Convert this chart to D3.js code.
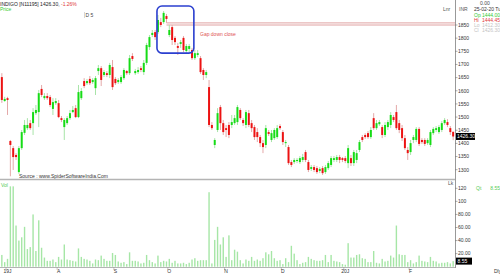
<!DOCTYPE html>
<html>
<head>
<meta charset="utf-8">
<title>INDIGO</title>
<script src="https://cdn.jsdelivr.net/npm/d3@7"></script>
<style>
  body { margin: 0; background: #fff; }
  svg { display: block; font-family: "Liberation Sans", Arial, sans-serif; }
</style>
</head>
<body>
<div id="container"></div>
<script>

// ******* Data (daily candles, Jul 2019 - 25 Feb 2020) *******
var open = [
  1652,1561,1572,1409,1382,1356,1291,1382,1440,1458,
  1477,1477,1515,1519,1607,1572,1580,1576,1531,1553,
  1553,1496,1462,1477,1496,1519,1534,1500,1572,1637,
  1629,1645,1633,1610,1675,1686,1660,1667,1660,1690,
  1645,1633,1633,1648,1675,1667,1732,1667,1671,1686,
  1671,1706,1766,1812,1823,1823,1861,1861,1884,1812,
  1842,1801,1770,1778,1801,1751,1759,1755,1724,1736,
  1724,1679,1660,1614,1470,1394,1451,1538,1477,1458,
  1470,1470,1477,1481,1527,1489,1470,1515,1477,1462,
  1443,1424,1401,1394,1443,1413,1420,1424,1466,1443,
  1401,1386,1329,1329,1333,1329,1337,1367,1329,1303,
  1310,1306,1295,1306,1291,1306,1318,1337,1337,1348,
  1344,1344,1325,1344,1325,1337,1375,1424,1432,1439,
  1424,1496,1458,1473,1462,1432,1462,1470,1500,1519,
  1477,1458,1420,1375,1367,1413,1413,1455,1413,1413,
  1401,1394,1439,1451,1443,1451,1477,1481,1458,1444.00
];
var high = [
  1667,1577,1577,1413,1390,1363,1390,1451,1489,1496,
  1489,1534,1546,1603,1622,1591,1591,1584,1572,1572,
  1565,1504,1496,1504,1527,1542,1546,1622,1610,1648,
  1645,1656,1648,1656,1698,1694,1679,1675,1706,1717,
  1652,1648,1660,1686,1679,1736,1743,1683,1690,1694,
  1717,1782,1812,1831,1831,1888,1877,1903,1892,1850,
  1850,1808,1782,1793,1808,1778,1778,1763,1755,1755,
  1732,1686,1679,1641,1481,1420,1534,1546,1489,1470,
  1481,1508,1508,1546,1534,1496,1527,1527,1489,1470,
  1458,1432,1413,1470,1451,1451,1458,1470,1473,1451,
  1413,1394,1337,1344,1344,1352,1360,1375,1337,1318,
  1318,1314,1310,1314,1318,1333,1352,1352,1356,1356,
  1348,1352,1394,1356,1375,1375,1413,1432,1439,1447,
  1462,1515,1489,1489,1470,1481,1489,1519,1508,1546,
  1489,1470,1432,1386,1413,1432,1462,1462,1420,1420,
  1420,1451,1462,1466,1470,1485,1496,1492,1466,1444.45
];
var low = [
  1554,1558,1508,1275,1299,1337,1284,1375,1432,1451,
  1451,1432,1508,1462,1576,1565,1565,1538,1508,1546,
  1496,1481,1413,1470,1489,1515,1496,1496,1565,1610,
  1622,1622,1626,1584,1660,1618,1652,1652,1648,1603,
  1622,1626,1626,1641,1660,1660,1713,1660,1664,1671,
  1660,1698,1755,1804,1793,1816,1842,1854,1858,1804,
  1774,1774,1736,1763,1747,1744,1747,1717,1717,1728,
  1664,1641,1648,1462,1451,1382,1443,1451,1432,1424,
  1420,1458,1470,1470,1489,1466,1458,1462,1443,1413,
  1405,1386,1363,1382,1428,1405,1413,1417,1451,1394,
  1386,1318,1310,1322,1325,1322,1329,1329,1291,1295,
  1291,1284,1287,1280,1284,1299,1310,1329,1329,1325,
  1329,1325,1306,1314,1314,1325,1367,1405,1417,1417,
  1417,1451,1451,1466,1420,1424,1451,1458,1481,1451,
  1439,1409,1375,1337,1356,1401,1405,1390,1398,1390,
  1394,1386,1432,1443,1436,1443,1470,1462,1432,1412.30
];
var close = [
  1565,1569,1565,1394,1348,1348,1382,1443,1470,1470,
  1458,1519,1527,1591,1584,1580,1572,1546,1557,1561,
  1500,1489,1489,1496,1515,1527,1500,1595,1599,1618,
  1637,1629,1641,1648,1686,1641,1671,1660,1698,1614,
  1629,1641,1652,1679,1667,1724,1721,1675,1679,1679,
  1706,1774,1804,1820,1804,1869,1850,1896,1873,1831,
  1793,1785,1763,1785,1755,1770,1770,1724,1743,1743,
  1671,1660,1671,1470,1458,1413,1515,1477,1443,1451,
  1432,1481,1496,1538,1496,1477,1519,1470,1458,1424,
  1424,1401,1386,1458,1436,1439,1451,1458,1458,1405,
  1405,1325,1318,1337,1337,1344,1348,1337,1299,1310,
  1299,1291,1303,1287,1310,1325,1344,1344,1348,1337,
  1337,1333,1382,1325,1367,1363,1405,1413,1424,1424,
  1451,1458,1477,1481,1432,1470,1481,1508,1489,1458,
  1451,1420,1382,1363,1401,1424,1455,1398,1405,1398,
  1413,1443,1455,1458,1462,1477,1489,1470,1443,1426.30
];
// volume in lakhs
var volume = [
  18,7,12,123,123,63,40,45,61,27,
  30,80,24,71,29,14,9,9,11,7,
  15,11,34,11,10,9,8,28,15,12,
  11,9,5,11,10,17,12,9,9,21,
  18,8,6,7,4,22,9,9,8,5,
  6,18,10,7,5,17,7,9,8,12,
  6,9,5,5,6,4,6,11,13,9,
  10,10,10,114,5,41,61,34,45,15,
  48,10,26,23,10,5,11,9,15,9,
  11,9,13,22,19,24,13,9,10,4,
  13,7,32,20,10,4,6,7,15,12,
  10,9,9,10,18,7,18,9,8,7,
  4,3,36,14,14,18,19,13,12,7,
  7,24,6,5,12,8,9,17,14,63,
  19,18,18,7,10,5,7,17,9,8,
  7,15,9,8,5,6,6,7,5,8.55
];
var monthLabels = ["19J", "A", "S", "O", "N", "D", "20J", "F"];
var monthIndex = [2, 20, 40, 59, 79, 99, 121, 144];
var priceTicks = [1300,1350,1400,1450,1500,1550,1600,1650,1700,1750,1800,1850];
var volTicks = [20, 40, 60, 80, 100, 120];
var volTickLabels = ["20.00", "40.00", "60.00", "80.00", "100", "120"];
var gapLevels = [1858, 1850]; // low before the gap, high after it
var gapStart = 58;
var boxIndex = [55, 68];      // candles framed by the blue box
var boxPrice = [1922, 1743];  // top and bottom of the blue box

// ******* Constants *******
const width = 500, height = 274;
const axisX = 455;
const fontSize = 5;

var svg = d3.select("#container").append("svg")
  .attr("width", width)
  .attr("height", height);

var x = d3.scaleBand()
  .domain(d3.range(close.length))
  .range([0, axisX])
  .padding(0.3);

var y = d3.scaleLinear().domain([1300, 1850]).range([169.7, 25]);
var yv = d3.scaleLinear().domain([0, 120]).range([266.7, 188.3]);

function cx(i) { return x(i) + x.bandwidth() / 2; }

var candles = d3.range(close.length).map(function(i) {
  return {i: i, o: open[i], h: high[i], l: low[i], c: close[i], v: volume[i]};
});

// ******* Frame *******
svg.append("line")
  .attr("x1", 0).attr("x2", axisX)
  .attr("y1", 179.5).attr("y2", 179.5)
  .attr("stroke", "#b4b4b4").attr("stroke-width", 1.5);
svg.append("line")
  .attr("x1", 0).attr("x2", axisX)
  .attr("y1", 267.5).attr("y2", 267.5)
  .attr("stroke", "#b4b4b4").attr("stroke-width", 1);
svg.append("line")
  .attr("x1", axisX + 0.5).attr("x2", axisX + 0.5)
  .attr("y1", 0).attr("y2", 268)
  .attr("stroke", "#999").attr("stroke-width", 1);

// ******* Gap lines *******
svg.selectAll(".gap")
  .data(gapLevels)
  .enter().append("line")
  .attr("x1", cx(gapStart)).attr("x2", axisX)
  .attr("y1", function(d) { return y(d); })
  .attr("y2", function(d) { return y(d); })
  .attr("stroke", "#d88a8a").attr("stroke-width", 0.8);

// ******* Candles *******
svg.selectAll(".wick")
  .data(candles)
  .enter().append("line")
  .attr("x1", function(d) { return cx(d.i); })
  .attr("x2", function(d) { return cx(d.i); })
  .attr("y1", function(d) { return y(d.h); })
  .attr("y2", function(d) { return y(d.l); })
  .attr("stroke", function(d) { return d.c >= d.o ? "#a8e4a8" : "#e4a8a8"; })
  .attr("stroke-width", 1);

svg.selectAll(".body")
  .data(candles)
  .enter().append("rect")
  .attr("x", function(d) { return x(d.i); })
  .attr("width", x.bandwidth())
  .attr("y", function(d) { return y(Math.max(d.o, d.c)); })
  .attr("height", function(d) { return Math.max(1, Math.abs(y(d.o) - y(d.c))); })
  .attr("fill", function(d) { return d.c >= d.o ? "#16dc16" : "#ec1212"; });

// ******* Blue box *******
var boxX0 = x(boxIndex[0]), boxX1 = x(boxIndex[1]);
svg.append("rect")
  .attr("x", boxX0).attr("y", y(boxPrice[0]))
  .attr("width", boxX1 - boxX0).attr("height", y(boxPrice[1]) - y(boxPrice[0]))
  .attr("rx", 5)
  .attr("fill", "none").attr("stroke", "#2b3fcf").attr("stroke-width", 1.6);

svg.append("text")
  .attr("x", 200).attr("y", 35.8)
  .attr("font-size", fontSize).attr("fill", "#e05252")
  .text("Gap down close");

// ******* Volume *******
svg.selectAll(".vol")
  .data(candles)
  .enter().append("rect")
  .attr("x", function(d) { return cx(d.i) - 0.7; })
  .attr("width", 1.4)
  .attr("y", function(d) { return yv(d.v); })
  .attr("height", function(d) { return yv(0) - yv(d.v); })
  .attr("fill", "#a6e6a6");

// ******* Price axis *******
var pAxis = svg.append("g");
pAxis.selectAll("line")
  .data(priceTicks).enter().append("line")
  .attr("x1", axisX).attr("x2", axisX + 2.5)
  .attr("y1", function(d) { return y(d); })
  .attr("y2", function(d) { return y(d); })
  .attr("stroke", "#777").attr("stroke-width", 0.6);
pAxis.selectAll("text")
  .data(priceTicks).enter().append("text")
  .attr("x", axisX + 3)
  .attr("y", function(d) { return y(d) + 1.8; })
  .attr("font-size", fontSize).attr("fill", "#333")
  .text(function(d) { return d; });

// last price box
var lastC = close[close.length - 1];
svg.append("rect")
  .attr("x", axisX + 1).attr("y", y(lastC) - 3.5)
  .attr("width", 19).attr("height", 7)
  .attr("fill", "#000");
svg.append("text")
  .attr("x", axisX + 2).attr("y", y(lastC) + 1.8)
  .attr("font-size", fontSize).attr("fill", "#fff")
  .text(d3.format(".2f")(lastC));

// ******* Volume axis *******
var vAxis = svg.append("g");
vAxis.selectAll("line")
  .data(volTicks).enter().append("line")
  .attr("x1", axisX).attr("x2", axisX + 2.5)
  .attr("y1", function(d) { return yv(d); })
  .attr("y2", function(d) { return yv(d); })
  .attr("stroke", "#777").attr("stroke-width", 0.6);
vAxis.selectAll("text")
  .data(volTicks).enter().append("text")
  .attr("x", axisX + 3)
  .attr("y", function(d) { return yv(d) + 1.8; })
  .attr("font-size", fontSize).attr("fill", "#333")
  .text(function(d, i) { return volTickLabels[i]; });

var lastV = volume[volume.length - 1];
svg.append("rect")
  .attr("x", axisX + 1).attr("y", yv(lastV) - 3.5)
  .attr("width", 16).attr("height", 7)
  .attr("fill", "#000");
svg.append("text")
  .attr("x", axisX + 2.5).attr("y", yv(lastV) + 1.8)
  .attr("font-size", fontSize).attr("fill", "#fff")
  .text(d3.format(".2f")(lastV));

// ******* Month axis *******
svg.selectAll(".mtick")
  .data(monthIndex).enter().append("line")
  .attr("x1", function(d) { return x(d) - 0.5; })
  .attr("x2", function(d) { return x(d) - 0.5; })
  .attr("y1", 267.5).attr("y2", 270)
  .attr("stroke", "#888").attr("stroke-width", 0.5);
svg.selectAll(".mlabel")
  .data(monthIndex).enter().append("text")
  .attr("x", function(d) { return cx(d); })
  .attr("y", 272.8)
  .attr("text-anchor", "middle")
  .attr("font-size", fontSize).attr("fill", "#333")
  .text(function(d, i) { return monthLabels[i]; });
svg.append("text")
  .attr("x", 494).attr("y", 272.8)
  .attr("font-size", fontSize).attr("fill", "#333")
  .text("Dly");

// ******* Header texts *******
var title = svg.append("text")
  .attr("x", 0).attr("y", 5.5)
  .attr("font-size", fontSize).attr("fill", "#222");
title.append("tspan").text("INDIGO [N11195] 1426.30, ");
title.append("tspan").attr("fill", "#e03a3a").text("-1.26%");

svg.append("text")
  .attr("x", 0).attr("y", 11.3)
  .attr("font-size", fontSize).attr("fill", "#33cc33")
  .text("Price");

svg.append("line")
  .attr("x1", 84.5).attr("x2", 84.5).attr("y1", 12).attr("y2", 18)
  .attr("stroke", "#aaa").attr("stroke-width", 0.5);
svg.append("text")
  .attr("x", 85.5).attr("y", 16.8)
  .attr("font-size", fontSize).attr("fill", "#444")
  .text("D 5");

svg.append("text")
  .attr("x", 443).attr("y", 10.8)
  .attr("font-size", fontSize).attr("fill", "#555")
  .text("Lnr");
svg.append("text")
  .attr("x", 459).attr("y", 10.8)
  .attr("font-size", fontSize).attr("fill", "#555")
  .text("INR");

svg.append("text")
  .attr("x", 480).attr("y", 5)
  .attr("font-size", fontSize).attr("fill", "#444")
  .text("0.00");
svg.append("text")
  .attr("x", 474).attr("y", 10.8)
  .attr("font-size", fontSize).attr("fill", "#333")
  .text("25-02-20 Tu");

var infoRows = [
  ["Op", "1444.00", "#33cc33"],
  ["Hi", "1444.45", "#e03a3a"],
  ["Lo", "1412.30", "#c4c4c4"],
  ["Cl", "1426.30", "#c4c4c4"]
];
infoRows.forEach(function(r, k) {
  svg.append("text")
    .attr("x", 474).attr("y", 16.8 + k * 5.2)
    .attr("font-size", fontSize).attr("fill", r[2])
    .text(r[0]);
  svg.append("text")
    .attr("x", 500).attr("y", 16.8 + k * 5.2)
    .attr("text-anchor", "end")
    .attr("font-size", fontSize).attr("fill", r[2])
    .text(r[1]);
});

svg.append("text")
  .attr("x", 19).attr("y", 178.3)
  .attr("font-size", fontSize).attr("fill", "#333")
  .text("Source : www.SpiderSoftwareIndia.Com");

// ******* Volume panel texts *******
svg.append("text")
  .attr("x", 1).attr("y", 186.5)
  .attr("font-size", fontSize).attr("fill", "#55cc55")
  .text("Vol");
svg.append("text")
  .attr("x", 448).attr("y", 184.5)
  .attr("font-size", fontSize).attr("fill", "#555")
  .text("Lk");
svg.append("text")
  .attr("x", 476).attr("y", 190.3)
  .attr("font-size", fontSize).attr("fill", "#55cc55")
  .text("Qt");
svg.append("text")
  .attr("x", 500).attr("y", 190.3)
  .attr("text-anchor", "end")
  .attr("font-size", fontSize).attr("fill", "#55cc55")
  .text(d3.format(".2f")(lastV));

</script>
</body>
</html>
